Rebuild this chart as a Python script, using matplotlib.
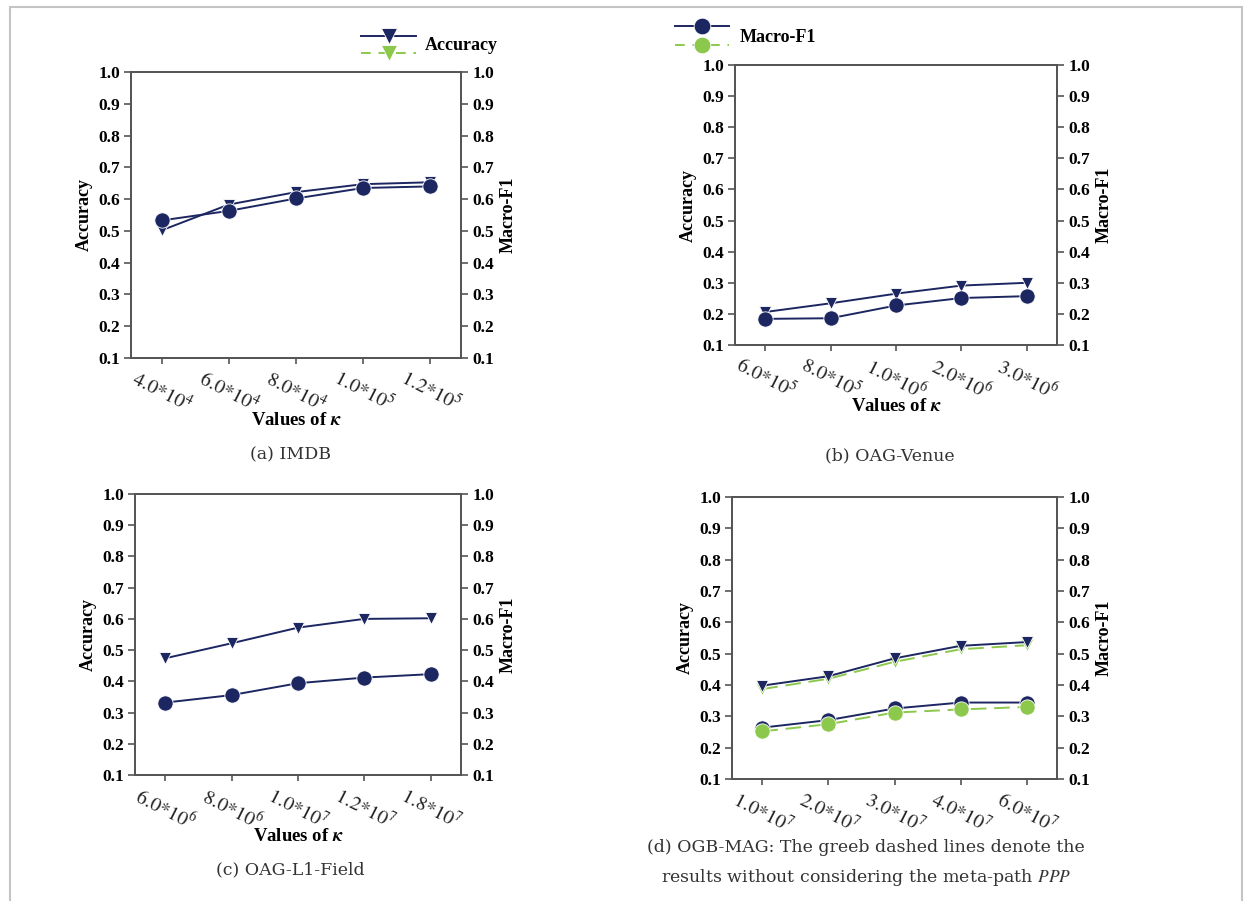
import matplotlib
matplotlib.use("Agg")
import matplotlib.pyplot as plt
from matplotlib.lines import Line2D
from matplotlib.patches import Rectangle

plt.rcParams['mathtext.fontset'] = 'stix'
plt.rcParams['font.family'] = ['Liberation Serif', 'DejaVu Serif']

# ---------------- data ----------------
imdb_k = [("4.0", "4"), ("6.0", "4"), ("8.0", "4"), ("1.0", "5"), ("1.2", "5")]
imdb_acc = [0.502, 0.583, 0.622, 0.647, 0.653]
imdb_f1 = [0.533, 0.563, 0.602, 0.635, 0.640]

venue_k = [("6.0", "5"), ("8.0", "5"), ("1.0", "6"), ("2.0", "6"), ("3.0", "6")]
venue_acc = [0.206, 0.234, 0.265, 0.291, 0.300]
venue_f1 = [0.184, 0.186, 0.227, 0.251, 0.257]

field_k = [("6.0", "6"), ("8.0", "6"), ("1.0", "7"), ("1.2", "7"), ("1.8", "7")]
field_acc = [0.474, 0.522, 0.572, 0.600, 0.602]
field_f1 = [0.332, 0.356, 0.394, 0.412, 0.423]

mag_k = [("1.0", "7"), ("2.0", "7"), ("3.0", "7"), ("4.0", "7"), ("6.0", "7")]
mag_acc = [0.398, 0.428, 0.485, 0.525, 0.537]
mag_f1 = [0.264, 0.288, 0.325, 0.344, 0.344]
mag_acc_noppp = [0.387, 0.420, 0.474, 0.514, 0.527]
mag_f1_noppp = [0.252, 0.275, 0.312, 0.322, 0.330]

yticks = [0.1, 0.2, 0.3, 0.4, 0.5, 0.6, 0.7, 0.8, 0.9, 1.0]

NAVY = "#1c2660"
GREEN = "#8cc84b"
SPINE = "#555555"

W, H = 1244, 901
fig = plt.figure(figsize=(W / 100, H / 100), dpi=100)


def px_rect(left, top, right, bottom):
    return [left / W, 1 - bottom / H, (right - left) / W, (bottom - top) / H]


def make_panel(rect, ks, acc, f1, acc2=None, f12=None, xlabel=True, xlabelpad=0):
    ax = fig.add_axes(rect)
    ax2 = ax.twinx()
    x = list(range(len(ks)))
    for a in (ax, ax2):
        a.set_ylim(0.1, 1.0)
        a.set_yticks(yticks)
        a.set_xlim(-0.46, len(ks) - 1 + 0.46)
        for s in a.spines.values():
            s.set_color(SPINE)
            s.set_linewidth(1.3)
    ax.set_yticklabels([f"{v:.1f}" for v in yticks], fontsize=12.5, fontweight='bold')
    ax2.set_yticklabels([f"{v:.1f}" for v in yticks], fontsize=12.5, fontweight='bold')
    ax.tick_params(axis='y', direction='out', length=5, width=1.2, color=SPINE, pad=3)
    ax2.tick_params(axis='y', direction='out', length=5, width=1.2, color=SPINE, pad=3)
    ax.set_xticks(x)
    ax.set_xticklabels([r"$\mathit{%s{*}10^{%s}}$" % (m, e) for m, e in ks],
                       rotation=-27, ha='center', va='top', fontsize=14.5, color='#222222')
    ax.tick_params(axis='x', direction='out', length=4, width=1.2, color=SPINE, pad=3)
    ax.set_ylabel("Accuracy", fontsize=13, fontweight='bold', labelpad=4)
    ax2.set_ylabel("Macro-F1", fontsize=13, fontweight='bold', labelpad=4)
    if xlabel:
        ax.set_xlabel(r"Values of $\boldsymbol{\kappa}$", fontsize=13.5, fontweight='bold',
                      labelpad=xlabelpad)

    if acc2 is not None:
        ax.plot(x, acc2, color=GREEN, lw=1.4, ls=(0, (8, 4)), marker='v', ms=9,
                mfc=GREEN, mec='white', mew=0.6, zorder=2)
    ax.plot(x, acc, color=NAVY, lw=1.4, marker='v', ms=9, mfc=NAVY, mec='white',
            mew=0.6, zorder=3)
    ax2.plot(x, f1, color=NAVY, lw=1.4, marker='o', ms=11, mfc=NAVY, mec='white',
             mew=0.6, zorder=3)
    if acc2 is not None:
        ax2.plot(x, f12, color=GREEN, lw=1.4, ls=(0, (8, 4)), marker='o', ms=11,
                 mfc=GREEN, mec='white', mew=0.6, zorder=4)
    return ax


make_panel(px_rect(131, 72, 461, 358), imdb_k, imdb_acc, imdb_f1, xlabelpad=-3)
make_panel(px_rect(735, 65, 1057, 345), venue_k, venue_acc, venue_f1, xlabelpad=-5)
make_panel(px_rect(135, 494, 461, 775), field_k, field_acc, field_f1, xlabelpad=-5)
make_panel(px_rect(732, 497, 1057, 779), mag_k, mag_acc, mag_f1, mag_acc_noppp, mag_f1_noppp,
           xlabel=False)

# captions
cap_kw = dict(family='DejaVu Serif', fontsize=12.5, color='#333333', ha='center', va='center')
fig.text(290 / W, 1 - 455 / H, "(a) IMDB", **cap_kw)
fig.text(890 / W, 1 - 456 / H, "(b) OAG-Venue", **cap_kw)
fig.text(290 / W, 1 - 870 / H, "(c) OAG-L1-Field", **cap_kw)
fig.text(866 / W, 1 - 848 / H, "(d) OGB-MAG: The greeb dashed lines denote the", **cap_kw)
fig.text(866 / W, 1 - 877 / H, "results without considering the meta-path $\\mathit{PPP}$", **cap_kw)


# legend (drawn in figure pixel coordinates)
def leg_line(x0, x1, y, color, ls, marker, ms):
    fig.add_artist(Line2D([x0 / W, x1 / W], [1 - y / H, 1 - y / H], color=color, lw=1.4, ls=ls))
    fig.add_artist(Line2D([(x0 + x1) / 2 / W], [1 - y / H], color=color, marker=marker, ms=ms,
                          mfc=color, mec='white', mew=0.6, ls='none'))


leg_line(361, 416, 36, NAVY, '-', 'v', 11)
leg_line(361, 416, 53, GREEN, (0, (5, 4)), 'v', 11)
fig.text(425 / W, 1 - 45 / H, "Accuracy", fontsize=13, fontweight='bold', va='center', ha='left')
leg_line(675, 729, 26, NAVY, '-', 'o', 12)
leg_line(675, 729, 45, GREEN, (0, (5, 4)), 'o', 12)
fig.text(740 / W, 1 - 38 / H, "Macro-F1", fontsize=13, fontweight='bold', va='center', ha='left')

# outer frame
fig.add_artist(Rectangle((9.5 / W, -0.05), (1242 - 9.5) / W, 1 - 6.5 / H + 0.05,
                         transform=fig.transFigure, fill=False, ec='#c4c4c4', lw=1.5))

fig.savefig("out.png", dpi=100, facecolor='white')
